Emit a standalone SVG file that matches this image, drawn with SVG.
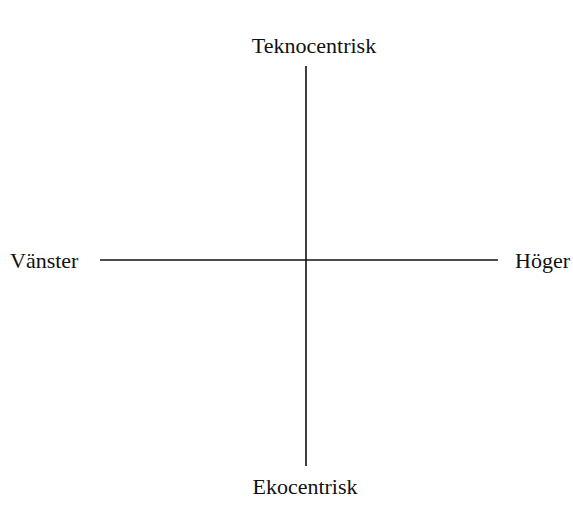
<svg xmlns="http://www.w3.org/2000/svg" width="573" height="517" viewBox="0 0 573 517">
<style>
text{font-family:"Liberation Serif","Times New Roman",serif;font-size:22px;fill:#111}
.ax{stroke:#111;stroke-width:1.6;fill:none}
</style>
<rect width="573" height="517" fill="#fff"/>
<g id="connectors">
<line class="ax" x1="306" y1="66" x2="306" y2="466"/>
<line class="ax" x1="100" y1="260" x2="498" y2="260"/>
</g>
<g id="top"><text x="314" y="53" text-anchor="middle">Teknocentrisk</text></g>
<g id="left"><text x="10" y="268">Vänster</text></g>
<g id="right"><text x="515" y="268">Höger</text></g>
<g id="bottom"><text x="305" y="494" text-anchor="middle">Ekocentrisk</text></g>
</svg>
